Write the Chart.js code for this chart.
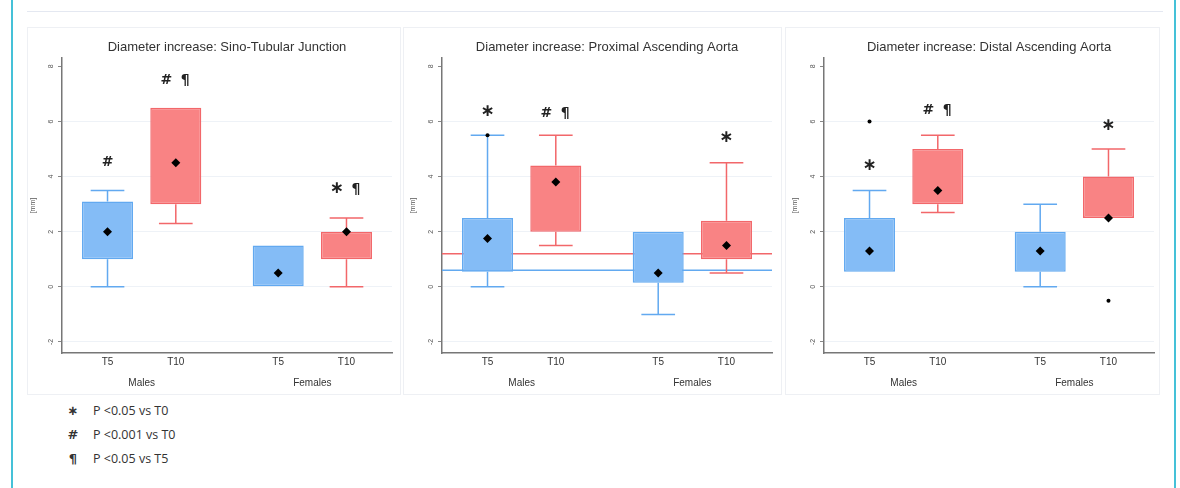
<!DOCTYPE html>
<html>
<head>
<meta charset="utf-8">
<script src="https://cdn.jsdelivr.net/npm/chart.js@4"></script>
<style>
  body { margin: 0; width: 1180px; height: 488px; position: relative; overflow: hidden; background: #fff; font-family: "Liberation Sans", Arial, sans-serif; }
  .edge { position: absolute; top: 0; width: 2px; height: 488px; background: #45c1d8; }
  .topline { position: absolute; left: 27px; top: 11px; width: 1136px; height: 1px; background: #e4e8f1; }
  .panel { position: absolute; top: 27px; height: 368px; border: 1px solid #eef0f4; box-sizing: border-box; }
  .box { position: absolute; top: 27px; width: 373px; height: 368px; }
  .legend { position: absolute; left: 53px; top: 399px; font-family: "Open Sans", sans-serif; font-size: 12.5px; color: #333; }
  .legend div { height: 24px; line-height: 24px; }
  .legend span { display: inline-block; width: 40px; text-align: center; font-family: "DejaVu Sans", sans-serif; font-weight: bold; font-size: 13px; }
</style>
</head>
<body>
<div class="edge" style="left:11px"></div>
<div class="edge" style="left:1174px"></div>
<div class="topline"></div>
<div class="panel" style="left:27px;width:374px"></div>
<div class="panel" style="left:403px;width:379px"></div>
<div class="panel" style="left:785px;width:375px"></div>
<div class="box" style="left:27px"><canvas id="c1"></canvas></div>
<div class="box" style="left:407px"><canvas id="c2"></canvas></div>
<div class="box" style="left:789px"><canvas id="c3"></canvas></div>
<div class="legend">
  <div><span>∗</span>P &lt;0.05 vs T0</div>
  <div><span>#</span>P &lt;0.001 vs T0</div>
  <div><span>¶</span>P &lt;0.05 vs T5</div>
</div>
<script>
const categories = ['T5', 'T10', 'T5', 'T10'];
const groups = ['Males', 'Females'];
const xPos = [1, 2.5, 4.75, 6.25];
const groupPos = [1.75, 5.5];
const yTicks = [-2, 0, 2, 4, 6, 8];

// Sino-Tubular Junction
const stjQ1 = [1.0, 3.0, 0.0, 1.0];
const stjQ3 = [3.1, 6.5, 1.5, 2.0];
const stjLow = [0.0, 2.3, null, 0.0];
const stjHigh = [3.5, null, null, 2.5];
const stjMean = [2.0, 4.5, 0.5, 2.0];
const stjOut = [[], [], [], []];
const stjSig = ['#', '# ¶', '', '∗ ¶'];
const stjSigY = [4.5, 7.5, null, 3.55];

// Proximal Ascending Aorta
const paQ1 = [0.55, 2.0, 0.15, 1.0];
const paQ3 = [2.5, 4.4, 2.0, 2.4];
const paLow = [0.0, 1.5, -1.0, 0.5];
const paHigh = [5.5, 5.5, null, 4.5];
const paMean = [1.75, 3.8, 0.5, 1.5];
const paOut = [[5.5], [], [], []];
const paSig = ['∗', '# ¶', '', '∗'];
const paSigY = [6.35, 6.3, null, 5.4];
const paRef = [1.2, 0.6]; // red, blue

// Distal Ascending Aorta
const daQ1 = [0.55, 3.0, 0.55, 2.5];
const daQ3 = [2.5, 5.0, 2.0, 4.0];
const daLow = [null, 2.7, 0.0, null];
const daHigh = [3.5, 5.5, 3.0, 5.0];
const daMean = [1.3, 3.5, 1.3, 2.5];
const daOut = [[6.0], [], [], [-0.5]];
const daSig = ['∗', '# ¶', '', '∗'];
const daSigY = [4.4, 6.4, null, 5.85];

const BLUE_FILL = '#84bcf6', BLUE_LINE = '#62a9f0';
const RED_FILL = '#f98384', RED_LINE = '#f2676a';
const fills = [BLUE_FILL, RED_FILL, BLUE_FILL, RED_FILL];
const lines = [BLUE_LINE, RED_LINE, BLUE_LINE, RED_LINE];
const CAP = 0.37;
const FONT = '"Liberation Sans", Arial, sans-serif';

function whiskers(idx, q1, q3, low, high) {
  const pts = [];
  idx.forEach(i => {
    const x = xPos[i];
    if (high[i] != null) {
      pts.push({x, y: q3[i]}, {x, y: high[i]}, {x, y: null});
      pts.push({x: x - CAP, y: high[i]}, {x: x + CAP, y: high[i]}, {x, y: null});
    }
    if (low[i] != null && low[i] < q1[i]) {
      pts.push({x, y: q1[i]}, {x, y: low[i]}, {x, y: null});
      pts.push({x: x - CAP, y: low[i]}, {x: x + CAP, y: low[i]}, {x, y: null});
    }
  });
  return pts;
}

const sigPlugin = {
  id: 'sigMarks',
  afterDatasetsDraw(chart, args, opts) {
    const {ctx, scales: {x, y}} = chart;
    ctx.save();
    ctx.fillStyle = '#222';
    ctx.textAlign = 'center';
    ctx.textBaseline = 'middle';
    opts.labels.forEach((lab, i) => {
      if (!lab) return;
      const px = x.getPixelForValue(xPos[i]);
      const py = y.getPixelForValue(opts.ys[i]);
      const parts = lab.split(' ');
      parts.forEach((p, k) => {
        const off = parts.length > 1 ? (k === 0 ? -9.5 : 9.5) : 0;
        ctx.font = p === '∗' ? 'bold 17px "DejaVu Sans"' : 'bold 14px "DejaVu Sans"';
        ctx.fillText(p, px + off, py);
      });
    });
    ctx.restore();
  }
};

function makeChart(id, title, q1, q3, low, high, mean, out, sig, sigY, refs) {
  const datasets = [
    {
      type: 'bar',
      data: xPos.map((x, i) => ({x, y: [q1[i], q3[i]]})),
      backgroundColor: fills,
      borderColor: lines,
      borderWidth: 1.5,
      borderSkipped: false,
      barPercentage: 0.747,
      categoryPercentage: 1,
      order: 3
    },
    {
      type: 'line',
      data: whiskers([0, 2], q1, q3, low, high),
      borderColor: BLUE_LINE, borderWidth: 1.5, pointRadius: 0, spanGaps: false, fill: false, order: 2
    },
    {
      type: 'line',
      data: whiskers([1, 3], q1, q3, low, high),
      borderColor: RED_LINE, borderWidth: 1.5, pointRadius: 0, spanGaps: false, fill: false, order: 2
    },
    {
      type: 'scatter',
      data: xPos.map((x, i) => ({x, y: mean[i]})),
      pointStyle: 'rectRot', pointRadius: 4.5, backgroundColor: '#000', borderColor: '#000', borderWidth: 0, order: 1
    },
    {
      type: 'scatter',
      data: out.flatMap((vals, i) => vals.map(v => ({x: xPos[i], y: v}))),
      pointStyle: 'circle', pointRadius: 2, backgroundColor: '#000', borderWidth: 0, order: 0
    }
  ];
  if (refs) {
    datasets.push(
      {type: 'line', data: [{x: 0, y: refs[0]}, {x: 7.25, y: refs[0]}], borderColor: RED_LINE, borderWidth: 1.5, pointRadius: 0, order: 4},
      {type: 'line', data: [{x: 0, y: refs[1]}, {x: 7.25, y: refs[1]}], borderColor: BLUE_LINE, borderWidth: 1.5, pointRadius: 0, order: 4}
    );
  }
  new Chart(document.getElementById(id), {
    type: 'bar',
    data: {datasets},
    plugins: [sigPlugin],
    options: {
      responsive: true,
      maintainAspectRatio: false,
      animation: false,
      events: [],
      layout: {padding: {left: 0, right: 8, top: 0, bottom: 0}},
      plugins: {
        legend: {display: false},
        tooltip: {enabled: false},
        title: {
          display: true, text: title, fullSize: false, color: '#333',
          font: {family: FONT, size: 13, weight: 'normal'},
          padding: {top: 13, bottom: 2.5}
        },
        sigMarks: {labels: sig, ys: sigY}
      },
      scales: {
        x: {
          type: 'linear', min: 0, max: 7.25, position: 'bottom', weight: 0, offset: false,
          grid: {display: false, drawTicks: false, offset: false},
          border: {display: true, color: '#777', width: 1.5},
          afterBuildTicks: s => { s.ticks = xPos.map(v => ({value: v})); },
          afterFit: s => { s.height = 18; },
          ticks: {
            autoSkip: false, maxRotation: 0, padding: 3, color: '#333',
            font: {family: FONT, size: 10},
            callback: (v, i) => categories[i]
          }
        },
        x2: {
          type: 'linear', min: 0, max: 7.25, position: 'bottom', weight: 1, offset: false,
          grid: {display: false, drawTicks: false, offset: false},
          border: {display: false},
          afterBuildTicks: s => { s.ticks = groupPos.map(v => ({value: v})); },
          afterFit: s => { s.height = 24; },
          ticks: {
            autoSkip: false, maxRotation: 0, padding: 6, color: '#333',
            font: {family: FONT, size: 10},
            callback: (v, i) => groups[i]
          }
        },
        y: {
          type: 'linear', min: -2.4, max: 8.3, beginAtZero: false,
          afterBuildTicks: s => { s.ticks = yTicks.map(v => ({value: v})); },
          afterFit: s => { s.width = 35; },
          grid: {
            color: c => (c.tick && c.tick.value === 8 ? 'rgba(0,0,0,0)' : '#eef2f7'),
            tickColor: '#888', tickLength: 4, lineWidth: 1
          },
          border: {display: true, color: '#777', width: 1.5},
          ticks: {
            minRotation: 90, maxRotation: 90, crossAlign: 'center', padding: 4,
            color: '#555', font: {family: FONT, size: 7}
          },
          title: {display: true, text: '[mm]', color: '#555', font: {family: FONT, size: 7}, padding: {top: 2, bottom: 0}}
        }
      }
    }
  });
}

makeChart('c1', 'Diameter increase: Sino-Tubular Junction', stjQ1, stjQ3, stjLow, stjHigh, stjMean, stjOut, stjSig, stjSigY, null);
makeChart('c2', 'Diameter increase: Proximal Ascending Aorta', paQ1, paQ3, paLow, paHigh, paMean, paOut, paSig, paSigY, paRef);
makeChart('c3', 'Diameter increase: Distal Ascending Aorta', daQ1, daQ3, daLow, daHigh, daMean, daOut, daSig, daSigY, null);
</script>
</body>
</html>
